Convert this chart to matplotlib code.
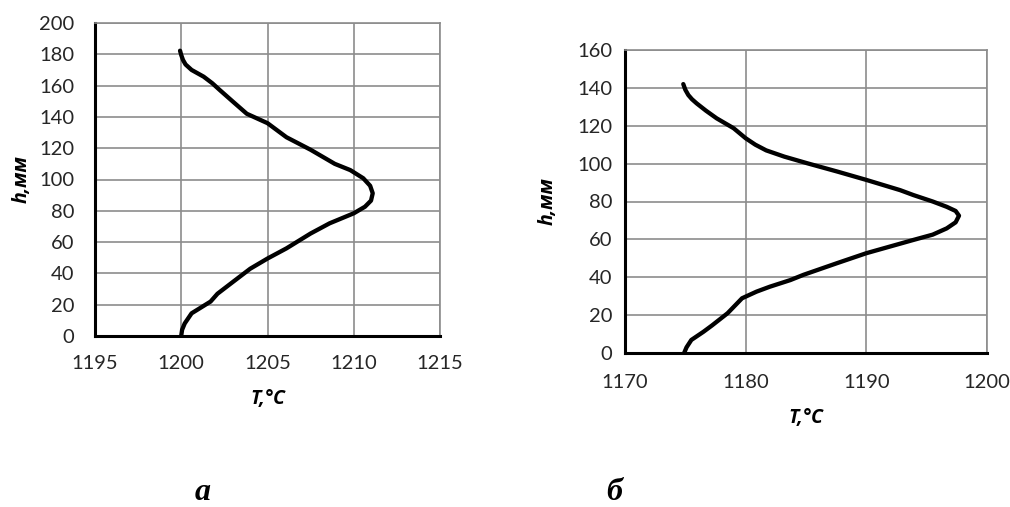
import numpy as np
import matplotlib.pyplot as plt

# профиль температуры (а)
h_a = [0.3, 4, 8, 14.5, 22, 27, 34.6, 43, 49.5, 56, 65.5, 72, 78.4, 82.6, 86.5,
       91.2, 96, 100.8, 106, 110, 119, 127, 136, 142, 149.7, 157, 161.5, 165.7,
       170, 173.5, 176.4, 179.5, 182.3]
T_a = [1200.0, 1200.05, 1200.2, 1200.6, 1201.7, 1202.1, 1203.0, 1204.0, 1205.0,
       1206.1, 1207.5, 1208.6, 1210.0, 1210.65, 1211.0, 1211.1, 1210.95, 1210.55,
       1209.8, 1208.9, 1207.5, 1206.1, 1205.0, 1203.8, 1203.0, 1202.25, 1201.8,
       1201.3, 1200.6, 1200.25, 1200.1, 1200.0, 1199.93]

# профиль температуры (б)
h_b = [0, 3, 6.9, 11.2, 14.5, 21, 28.9, 32.4, 35, 38.5, 41.3, 47.5, 52.7, 59.7,
       62.5, 65.8, 69, 72.5, 75, 77.2, 80, 83.4, 86, 91.4, 95.8, 100.2, 103.7,
       107, 110, 113.4, 118.7, 123.9, 128, 131.8, 134, 136.2, 139, 142]
T_b = [1174.9, 1175.1, 1175.5, 1176.5, 1177.2, 1178.5, 1179.7, 1180.9, 1182.0,
       1183.7, 1184.8, 1187.6, 1190.0, 1193.9, 1195.5, 1196.66, 1197.4, 1197.68,
       1197.4, 1196.66, 1195.5, 1193.9, 1192.8, 1190.0, 1187.6, 1185.1, 1183.2,
       1181.7, 1180.8, 1180.0, 1179.0, 1177.6, 1176.7, 1175.94, 1175.55, 1175.25,
       1175.0, 1174.83]

xt_a = [1195, 1200, 1205, 1210, 1215]
yt_a = list(range(0, 201, 20))
xt_b = [1170, 1180, 1190, 1200]
yt_b = list(range(0, 161, 20))

W, H = 1010, 507
fig = plt.figure(figsize=(W / 100, H / 100), dpi=100)

tick_font = 'Lato'
lab_font = dict(family='Open Sans', style='italic', weight='bold', size=14)


def setup(ax, xt, yt, xpad, ypad, xl, yl):
    ax.set_xlim(xt[0], xt[-1])
    ax.set_ylim(yt[0], yt[-1])
    ax.set_xticks(xt)
    ax.set_yticks(yt)
    ax.grid(True, color='#8c8c8c', lw=1.2)
    ax.set_axisbelow(True)
    for s in ['top', 'right']:
        ax.spines[s].set_color('#8c8c8c')
        ax.spines[s].set_linewidth(1.2)
    for s in ['left', 'bottom']:
        ax.spines[s].set_color('black')
        ax.spines[s].set_linewidth(2.2)
    ax.tick_params(axis='x', length=0, pad=xpad, labelsize=14.5, labelcolor='#262626')
    ax.tick_params(axis='y', length=0, pad=ypad, labelsize=14.5, labelcolor='#262626')
    for lb in ax.get_xticklabels() + ax.get_yticklabels():
        lb.set_family(tick_font)
    ax.set_xlabel('T,°C', fontdict=lab_font)
    ax.set_ylabel('h,мм', fontdict=lab_font)
    ax.xaxis.set_label_coords(0.5, xl)
    ax.yaxis.set_label_coords(yl, 0.5)


ax1 = fig.add_axes([95 / W, 1 - 336 / H, 345 / W, 313 / H])
ax1.plot(T_a, h_a, color='black', lw=3.1, solid_capstyle='round',
         solid_joinstyle='round')
setup(ax1, xt_a, yt_a, 14, 15, -0.17, -0.185)

ax2 = fig.add_axes([625 / W, 1 - 353 / H, 362 / W, 303 / H])
ax2.plot(T_b, h_b, color='black', lw=3.1, solid_capstyle='round',
         solid_joinstyle='round')
setup(ax2, xt_b, yt_b, 15, 9, -0.181, -0.187)

fig.text(203 / W, 1 - 493 / H, 'а', family='Liberation Serif', style='italic',
         weight='bold', size=23, ha='center', va='center')
fig.text(614 / W, 1 - 492 / H, 'б', family='Liberation Serif', style='italic',
         weight='bold', size=23, ha='center', va='center')

fig.savefig('out.png', dpi=100, facecolor='white')
